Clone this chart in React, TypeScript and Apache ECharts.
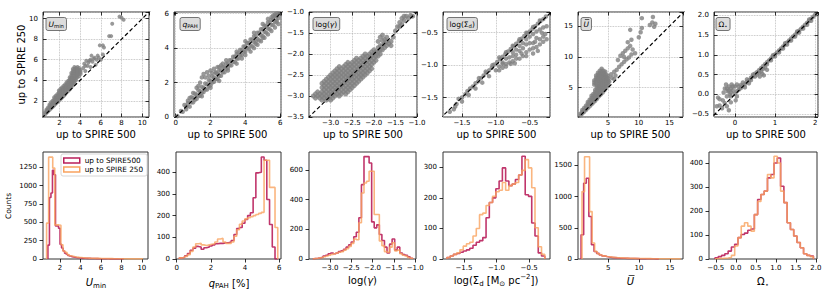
import React, { useEffect, useRef } from 'react';
import * as echarts from 'echarts';

const FONT = 'DejaVu Sans';
const NAME_500 = 'up to SPIRE500';
const NAME_250 = 'up to SPIRE 250';
const C500 = '#b91f5b';
const C250 = '#f9a35f';

type Pt = [number, number];

// ---------- top row: [up to SPIRE 500, up to SPIRE 250] ----------
const uminPts: Pt[] = [
  [0.6,0.65],[0.6,0.85],[0.75,0.8],[0.75,1.0],[0.75,1.15],[0.9,0.95],[0.9,1.15],[0.9,1.35],
  [1.05,1.1],[1.05,1.3],[1.05,1.5],[1.05,1.65],[1.2,1.25],[1.2,1.45],[1.2,1.65],[1.2,1.85],
  [1.35,1.4],[1.35,1.6],[1.35,1.8],[1.35,2.0],[1.5,1.55],[1.5,1.75],[1.5,1.95],[1.5,2.15],[1.5,2.35],
  [1.65,1.7],[1.65,1.9],[1.65,2.1],[1.65,2.3],[1.65,2.5],[1.8,1.85],[1.8,2.05],[1.8,2.25],[1.8,2.45],[1.8,2.65],
  [1.95,2.0],[1.95,2.2],[1.95,2.4],[1.95,2.6],[1.95,2.8],[1.95,3.0],[2.1,2.15],[2.1,2.35],[2.1,2.55],[2.1,2.75],[2.1,2.95],[2.1,3.15],
  [2.25,2.3],[2.25,2.5],[2.25,2.7],[2.25,2.9],[2.25,3.1],[2.25,3.3],[2.4,2.45],[2.4,2.65],[2.4,2.85],[2.4,3.05],[2.4,3.25],[2.4,3.45],
  [2.55,2.6],[2.55,2.8],[2.55,3.0],[2.55,3.2],[2.55,3.4],[2.55,3.6],[2.7,2.8],[2.7,3.0],[2.7,3.2],[2.7,3.4],[2.7,3.6],[2.7,3.8],
  [2.85,2.95],[2.85,3.15],[2.85,3.35],[2.85,3.55],[2.85,3.75],[2.85,3.95],
  [3.0,3.1],[3.0,3.3],[3.0,3.5],[3.0,3.7],[3.0,3.9],[3.0,4.1],[3.0,4.3],
  [3.15,3.3],[3.15,3.5],[3.15,3.7],[3.15,3.9],[3.15,4.1],[3.15,4.3],[3.15,4.5],[3.15,4.7],
  [3.3,3.5],[3.3,3.7],[3.3,3.9],[3.3,4.1],[3.3,4.3],[3.3,4.5],[3.3,4.7],[3.3,4.9],[3.3,5.1],
  [3.45,3.7],[3.45,3.9],[3.45,4.1],[3.45,4.3],[3.45,4.5],[3.45,4.7],[3.45,4.9],[3.45,5.1],[3.45,5.3],
  [3.6,4.0],[3.6,4.2],[3.6,4.4],[3.6,4.6],[3.6,4.8],[3.6,5.0],[3.6,5.2],
  [3.75,4.3],[3.75,4.5],[3.75,4.7],[3.75,4.9],[3.75,5.1],[3.75,5.3],[3.9,4.4],[3.9,4.6],[3.9,4.8],[3.9,5.0],[3.9,5.2],
  [4.05,4.6],[4.05,4.8],[4.05,5.0],
  [4.4,5.6],[4.6,5.9],[4.8,5.7],[5.0,6.0],[5.2,5.8],[5.4,6.2],[5.6,6.0],[5.1,6.4],[4.7,5.4],[5.8,6.2],
  [6.0,6.0],[5.5,5.5],[4.3,5.2],[6.2,6.5],[5.9,7.4],[6.2,7.4],[6.3,7.2],[6.8,8.3],[7.0,8.3],[7.1,9.5],
  [7.8,10.2],[8.0,10.1],[8.2,9.9],[4.5,4.9],[5.0,5.3],[4.5,5.4],[5.3,6.1],[5.7,6.4],[4.9,5.9],
];

const qpahPts: Pt[] = [
  [0.1,0.05],[0.3,0.35],[0.4,0.3],[0.6,0.6],[0.7,0.8],[0.9,0.85],[1.0,1.1],[1.1,1.0],[1.2,1.3],[1.3,1.2],
  [1.4,1.5],[1.5,1.4],[1.6,1.7],[1.7,1.6],[1.8,1.9],[1.9,1.8],[2.0,2.1],[2.1,2.0],[2.2,2.3],[2.3,2.2],
  [2.4,2.5],[2.5,2.4],[2.6,2.7],[2.7,2.6],[2.8,2.9],[2.9,2.8],[3.0,3.1],[3.1,3.0],[3.2,3.3],[3.3,3.2],
  [3.4,3.5],[3.5,3.4],[3.6,3.7],[3.7,3.6],[3.8,3.9],[3.9,3.8],[4.0,4.1],[4.1,4.0],[4.2,4.3],[4.3,4.15],
  [4.4,4.5],[4.5,4.35],[4.6,4.7],[4.7,4.55],[4.8,4.9],[4.9,4.75],[5.0,5.1],[5.1,4.95],[5.2,5.3],[5.3,5.15],
  [5.4,5.5],[5.5,5.35],[5.6,5.7],[5.7,5.55],[5.8,5.85],[5.9,5.75],
  [0.5,0.7],[0.7,0.95],[0.9,1.15],[1.1,1.35],[1.3,1.55],[1.5,1.75],[1.7,1.95],[1.9,2.15],[2.1,2.35],[2.3,2.55],
  [2.5,2.7],[2.7,2.9],[2.9,3.1],[3.1,3.3],[3.3,3.5],[3.5,3.65],[3.7,3.9],[3.9,4.1],[4.1,4.3],[4.3,4.5],
  [4.5,4.7],[4.7,4.9],[4.9,5.1],[5.1,5.3],[5.3,5.5],[5.5,5.65],[5.7,5.85],
  [0.6,0.45],[0.8,0.6],[1.0,0.85],[1.2,1.05],[1.4,1.25],[1.6,1.45],[1.8,1.6],[2.0,1.85],[2.2,2.05],[2.4,2.2],
  [2.6,2.4],[2.8,2.6],[3.0,2.85],[3.2,3.0],[3.4,3.2],[3.6,3.4],[3.8,3.6],[4.0,3.8],[4.2,3.95],[4.4,4.1],
  [4.6,4.25],[4.8,4.45],[5.0,4.7],[5.2,4.9],[5.4,5.1],[5.6,5.35],[5.8,5.6],
  [1.2,1.7],[1.4,2.0],[1.5,2.3],[1.6,2.5],[1.8,2.6],[1.9,2.4],[2.0,2.7],[2.2,2.8],[2.3,2.6],[2.4,2.9],
  [2.5,2.9],[2.7,3.1],[2.9,3.3],[1.3,1.8],[1.0,1.4],[0.8,1.1],[1.7,2.3],[2.1,2.55],[2.6,3.0],
  [1.5,1.2],[2.0,1.7],[2.5,2.1],[3.0,2.7],[3.5,3.1],[3.8,3.4],[4.0,3.6],[4.3,3.8],[4.5,4.0],[4.7,4.2],
  [4.9,4.4],[5.1,4.6],[5.3,4.8],[5.5,5.0],[5.7,5.2],[5.8,5.5],[5.9,5.4],[4.6,4.4],[5.0,4.6],
  [3.5,3.8],[4.0,4.4],[4.5,4.9],[5.0,5.4],[5.3,5.7],[5.5,5.8],[5.7,5.95],[5.9,6.0],[5.6,5.9],[5.8,6.0],
];

const gammaPts: Pt[] = [
  [-3.4,-3.0],[-3.35,-2.95],[-3.35,-3.05],[-3.3,-2.9],[-3.3,-3.0],[-3.25,-2.95],[-3.25,-3.05],
  [-3.2,-2.7],[-3.2,-2.8],[-3.2,-2.9],[-3.2,-3.0],[-3.2,-3.1],
  [-3.15,-2.65],[-3.15,-2.75],[-3.15,-2.85],[-3.15,-2.95],[-3.15,-3.05],
  [-3.1,-2.6],[-3.1,-2.7],[-3.1,-2.8],[-3.1,-2.9],[-3.1,-3.0],[-3.1,-3.1],
  [-3.05,-2.55],[-3.05,-2.65],[-3.05,-2.75],[-3.05,-2.85],[-3.05,-2.95],[-3.05,-3.05],
  [-3.0,-2.5],[-3.0,-2.6],[-3.0,-2.7],[-3.0,-2.8],[-3.0,-2.9],[-3.0,-3.0],[-3.0,-3.1],
  [-2.95,-2.45],[-2.95,-2.55],[-2.95,-2.65],[-2.95,-2.75],[-2.95,-2.85],[-2.95,-2.95],[-2.95,-3.05],
  [-2.9,-2.4],[-2.9,-2.5],[-2.9,-2.6],[-2.9,-2.7],[-2.9,-2.8],[-2.9,-2.9],[-2.9,-3.0],
  [-2.85,-2.35],[-2.85,-2.45],[-2.85,-2.55],[-2.85,-2.65],[-2.85,-2.75],[-2.85,-2.85],[-2.85,-2.95],
  [-2.8,-2.3],[-2.8,-2.4],[-2.8,-2.5],[-2.8,-2.6],[-2.8,-2.7],[-2.8,-2.8],[-2.8,-2.9],[-2.8,-3.0],
  [-2.75,-2.35],[-2.75,-2.45],[-2.75,-2.55],[-2.75,-2.65],[-2.75,-2.75],[-2.75,-2.85],[-2.75,-2.95],
  [-2.7,-2.3],[-2.7,-2.4],[-2.7,-2.5],[-2.7,-2.6],[-2.7,-2.7],[-2.7,-2.8],[-2.7,-2.9],
  [-2.65,-2.25],[-2.65,-2.35],[-2.65,-2.45],[-2.65,-2.55],[-2.65,-2.65],[-2.65,-2.75],[-2.65,-2.85],[-2.65,-2.95],
  [-2.6,-2.2],[-2.6,-2.3],[-2.6,-2.4],[-2.6,-2.5],[-2.6,-2.6],[-2.6,-2.7],[-2.6,-2.8],[-2.6,-2.9],
  [-2.55,-2.25],[-2.55,-2.35],[-2.55,-2.45],[-2.55,-2.55],[-2.55,-2.65],[-2.55,-2.75],[-2.55,-2.85],
  [-2.5,-2.2],[-2.5,-2.3],[-2.5,-2.4],[-2.5,-2.5],[-2.5,-2.6],[-2.5,-2.7],[-2.5,-2.8],
  [-2.45,-2.15],[-2.45,-2.25],[-2.45,-2.35],[-2.45,-2.45],[-2.45,-2.55],[-2.45,-2.65],[-2.45,-2.75],
  [-2.4,-2.1],[-2.4,-2.2],[-2.4,-2.3],[-2.4,-2.4],[-2.4,-2.5],[-2.4,-2.6],[-2.4,-2.7],
  [-2.35,-2.15],[-2.35,-2.25],[-2.35,-2.35],[-2.35,-2.45],[-2.35,-2.55],[-2.35,-2.65],
  [-2.3,-2.1],[-2.3,-2.2],[-2.3,-2.3],[-2.3,-2.4],[-2.3,-2.5],[-2.3,-2.6],
  [-2.25,-2.05],[-2.25,-2.15],[-2.25,-2.25],[-2.25,-2.35],[-2.25,-2.45],[-2.25,-2.55],
  [-2.2,-2.0],[-2.2,-2.1],[-2.2,-2.2],[-2.2,-2.3],[-2.2,-2.4],[-2.2,-2.5],
  [-2.15,-2.05],[-2.15,-2.15],[-2.15,-2.25],[-2.15,-2.35],[-2.15,-2.45],
  [-2.1,-2.0],[-2.1,-2.1],[-2.1,-2.2],[-2.1,-2.3],[-2.1,-2.4],
  [-2.05,-1.95],[-2.05,-2.05],[-2.05,-2.15],[-2.05,-2.25],[-2.05,-2.35],
  [-2.0,-1.9],[-2.0,-2.0],[-2.0,-2.1],[-2.0,-2.2],[-1.95,-1.95],[-1.95,-2.05],[-1.95,-2.15],
  [-1.9,-1.85],[-1.9,-1.95],[-1.9,-2.05],[-1.85,-1.8],[-1.85,-1.9],[-1.85,-2.0],[-1.8,-1.8],[-1.8,-1.9],
  [-1.75,-1.75],[-1.75,-1.85],[-1.7,-1.7],[-1.7,-1.8],[-1.65,-1.75],[-1.6,-1.7],[-1.6,-1.8],
  [-1.85,-1.6],[-1.8,-1.55],[-1.75,-1.65],[-1.7,-1.6],[-1.9,-1.7],[-1.8,-1.68],[-1.55,-1.6],
  [-1.45,-1.35],[-1.4,-1.25],[-1.35,-1.15],[-1.3,-1.2],[-1.25,-1.1],[-1.2,-1.15],[-1.15,-1.08],[-1.1,-1.1],
  [-1.35,-1.3],[-1.5,-1.45],[-1.4,-1.35],[-1.3,-1.1],
];

const sigmaPts: Pt[] = [
  [-1.68,-1.72],[-1.62,-1.68],[-1.58,-1.6],[-1.55,-1.52],[-1.5,-1.5],[-1.45,-1.45],[-1.42,-1.4],[-1.38,-1.36],
  [-1.34,-1.33],[-1.3,-1.28],[-1.26,-1.25],[-1.22,-1.2],[-1.18,-1.16],[-1.14,-1.12],[-1.1,-1.08],[-1.06,-1.04],
  [-1.02,-0.99],[-0.98,-0.95],[-0.94,-0.91],[-0.9,-0.87],[-0.86,-0.83],[-0.82,-0.79],[-0.78,-0.75],[-0.74,-0.71],
  [-0.7,-0.67],[-0.66,-0.63],[-0.62,-0.59],[-0.58,-0.55],[-0.54,-0.51],[-0.5,-0.48],[-0.46,-0.44],[-0.42,-0.4],
  [-0.38,-0.36],[-0.34,-0.32],[-0.3,-0.29],[-0.26,-0.25],
  [-1.6,-1.64],[-1.5,-1.56],[-1.4,-1.46],[-1.3,-1.36],[-1.2,-1.27],[-1.1,-1.17],[-1.0,-1.08],[-0.9,-0.98],
  [-0.95,-0.88],[-0.85,-0.8],[-0.75,-0.7],[-0.65,-0.6],[-0.55,-0.5],[-0.45,-0.41],[-1.25,-1.2],[-1.15,-1.1],
  [-1.05,-1.0],[-0.35,-0.31],
  [-0.95,-1.02],[-0.95,-1.08],[-0.9,-0.96],[-0.9,-1.04],[-0.85,-0.9],[-0.85,-0.98],[-0.85,-1.02],
  [-0.8,-0.88],[-0.8,-0.96],[-0.75,-0.8],[-0.75,-0.86],[-0.75,-0.94],[-0.7,-0.76],[-0.7,-0.84],[-0.7,-0.9],
  [-0.65,-0.7],[-0.65,-0.78],[-0.65,-0.9],[-0.6,-0.66],[-0.6,-0.74],[-0.6,-0.86],[-0.55,-0.6],[-0.55,-0.68],
  [-0.55,-0.8],[-0.5,-0.56],[-0.5,-0.66],[-0.5,-0.76],[-0.45,-0.52],[-0.45,-0.66],[-0.45,-0.74],
  [-0.4,-0.48],[-0.4,-0.58],[-0.4,-0.72],[-0.35,-0.45],[-0.35,-0.6],[-0.35,-0.68],[-0.3,-0.42],[-0.3,-0.56],
  [-0.3,-0.64],[-0.25,-0.4],[-0.25,-0.6],[-0.27,-0.52],[-0.32,-0.5],[-0.38,-0.78],[-0.45,-0.82],[-0.55,-0.86],
  [-0.78,-0.98],[-0.72,-0.97],[-0.62,-0.82],[-0.42,-0.64],
];

const ubarPts: Pt[] = [
  [0.5,0.5],[0.5,0.8],[0.8,0.8],[0.8,1.1],[0.8,1.4],[1.1,1.1],[1.1,1.4],[1.1,1.7],
  [1.4,1.4],[1.4,1.75],[1.4,2.1],[1.7,1.7],[1.7,2.05],[1.7,2.4],[1.7,2.7],
  [2.0,2.0],[2.0,2.35],[2.0,2.7],[2.0,3.05],[2.3,2.3],[2.3,2.65],[2.3,3.0],[2.3,3.35],[2.3,3.7],
  [2.6,2.6],[2.6,2.95],[2.6,3.3],[2.6,3.65],[2.6,4.0],[2.9,2.9],[2.9,3.25],[2.9,3.6],[2.9,3.95],[2.9,4.3],[2.9,4.65],
  [3.2,3.2],[3.2,3.55],[3.2,3.9],[3.2,4.25],[3.2,4.6],[3.2,4.95],[3.2,5.3],
  [3.5,3.6],[3.5,3.95],[3.5,4.3],[3.5,4.65],[3.5,5.0],[3.5,5.35],[3.5,5.7],[3.5,6.05],
  [3.8,3.9],[3.8,4.25],[3.8,4.6],[3.8,4.95],[3.8,5.3],[3.8,5.65],[3.8,6.0],[3.8,6.35],[3.8,6.7],
  [4.1,4.2],[4.1,4.55],[4.1,4.9],[4.1,5.25],[4.1,5.6],[4.1,5.95],[4.1,6.3],[4.1,6.65],[4.1,7.0],
  [4.4,4.6],[4.4,4.95],[4.4,5.3],[4.4,5.65],[4.4,6.0],[4.4,6.35],[4.4,6.7],[4.4,7.05],[4.4,7.4],
  [4.7,5.0],[4.7,5.35],[4.7,5.7],[4.7,6.05],[4.7,6.4],[4.7,6.75],[4.7,7.1],
  [5.0,5.5],[5.0,5.85],[5.0,6.2],[5.0,6.55],[5.0,6.9],
  [2.75,5.5],[2.75,5.85],[2.75,6.2],[3.05,5.6],[3.05,5.95],[3.05,6.3],[3.05,6.65],[3.05,7.0],
  [3.35,6.4],[3.35,6.75],[3.35,7.1],[3.35,7.45],[3.65,6.4],[3.65,7.05],[3.65,7.4],[3.65,7.75],
  [3.95,7.05],[3.95,7.4],[3.95,7.75],[3.95,8.1],[4.25,7.4],[4.25,7.75],[4.55,7.6],
  [5.6,6.6],[6.0,7.6],[6.4,7.9],[6.8,8.4],[7.2,8.8],[7.6,9.2],[8.0,9.6],[8.4,9.9],[6.6,9.5],[7.0,10.2],
  [7.4,10.6],[7.8,11.0],[8.2,11.4],[8.6,11.8],[9.0,11.2],[9.4,10.6],[8.8,10.4],[7.6,10.0],[8.2,12.4],[8.8,12.8],
  [8.6,14.4],[10.0,13.2],[10.3,14.0],[10.5,14.7],[10.5,16.3],[11.8,15.2],[12.2,15.6],[12.5,14.9],[12.7,15.4],[12.3,16.5],
  [6.0,6.4],[5.2,6.0],[6.2,7.0],[5.5,7.2],
];

const omegaPts: Pt[] = [
  [-0.1,-0.05],[0.0,0.02],[0.05,0.08],[0.1,0.12],[0.15,0.16],[0.2,0.22],[0.25,0.26],[0.3,0.32],[0.35,0.36],
  [0.4,0.42],[0.45,0.46],[0.5,0.52],[0.55,0.56],[0.6,0.61],[0.65,0.66],[0.7,0.71],[0.75,0.76],[0.8,0.81],
  [0.85,0.86],[0.9,0.91],[0.95,0.96],[1.0,1.01],[1.05,1.06],[1.1,1.11],[1.15,1.16],[1.2,1.21],[1.25,1.26],
  [1.3,1.31],[1.35,1.36],[1.4,1.41],[1.45,1.46],[1.5,1.51],[1.55,1.56],[1.6,1.61],[1.65,1.66],[1.7,1.71],
  [1.75,1.76],[1.8,1.81],[1.85,1.86],[1.9,1.91],[1.95,1.96],[2.0,2.01],
  [0.1,0.2],[0.2,0.3],[0.3,0.38],[0.4,0.36],[0.5,0.45],[0.6,0.55],[0.7,0.64],[0.8,0.76],[0.25,0.18],
  [0.35,0.28],[0.55,0.5],[0.65,0.58],[0.75,0.68],[1.0,0.96],[1.2,1.16],[1.5,1.46],[1.8,1.76],[0.62,0.45],
  [0.72,0.48],[0.8,0.62],[0.68,0.52],[0.9,0.86],[1.1,1.06],[1.3,1.26],[1.4,1.36],[1.6,1.56],[1.7,1.66],
  [1.9,1.86],[0.95,0.99],[1.25,1.29],[1.55,1.59],[1.85,1.89],[0.45,0.5],[0.15,0.24],
  [-0.45,-0.3],[-0.38,-0.28],[-0.32,-0.35],[-0.25,-0.22],[-0.2,-0.3],[-0.15,-0.4],[-0.42,-0.08],[-0.38,-0.12],
  [-0.28,0.05],[-0.25,0.15],[-0.22,0.25],[-0.18,0.08],[-0.15,0.2],[-0.12,0.0],[-0.1,0.15],[-0.08,0.25],
  [-0.05,0.1],[-0.2,-0.05],[0.0,0.2],[-0.1,-0.2],[0.05,-0.05],[-0.3,-0.15],[0.02,-0.15],[-0.2,0.15],
  [-0.15,0.1],[-0.05,0.2],[-0.1,0.05],[0.05,0.25],
];

// ---------- bottom row: histograms (first bin edge, bin width) and counts ----------
const uminBin500 = [0.83, 0.148];
const uminCounts500 = [190,840,900,1210,1150,450,450,420,200,150,110,80,65,50,40,32,28,24,20,18,16,14,12,11,10,9,8,8,7,6,6,5,5,4,4,4,3,3,3,3,2,2,2,2,2,2,1,1,1,2];
const uminBin250 = [0.7, 0.2];
const uminCounts250 = [490,1390,1390,1240,465,465,460,195,110,90,60,45,38,30,25,22,20,18,15,14,12,11,10,9,8,8,7,6,6,5,5,5,4,4,4,3,3,3,3,2,2,2,2,2,2,2,2];

const qpahBin500 = [0.15, 0.16];
const qpahCounts500 = [5,8,15,25,40,50,58,55,45,52,55,60,65,70,72,72,75,75,78,85,113,140,145,165,182,200,213,282,397,400,470,455,274,159,55,0];
const qpahBin250 = [0.15, 0.16];
const qpahCounts250 = [5,8,12,20,35,55,70,72,65,62,65,68,70,78,92,95,78,72,72,78,105,135,160,175,185,190,195,200,205,210,215,455,455,330,330,145];

const gammaBin500 = [-3.4, 0.06];
const gammaCounts500 = [3,5,8,12,20,25,35,40,35,40,50,55,65,80,95,115,150,180,278,501,690,690,647,250,210,230,165,125,80,40,100,135,60,80,40,30,25,15,5];
const gammaBin250 = [-3.4, 0.06];
const gammaCounts250 = [3,5,8,10,15,20,25,30,35,40,45,50,60,70,85,105,135,130,244,445,512,524,591,591,300,300,121,90,50,45,80,110,55,60,35,25,20,10,5];

const sigmaBin500 = [-1.76, 0.05];
const sigmaCounts500 = [5,10,15,18,22,26,30,35,45,55,60,70,135,185,200,230,255,298,255,240,245,260,275,336,210,205,118,75,20,10];
const sigmaBin250 = [-1.76, 0.05];
const sigmaCounts250 = [5,10,15,20,30,42,50,55,75,100,145,150,175,185,205,220,225,250,225,240,245,250,275,290,325,298,233,102,40,15];

const ubarBin500 = [0.6, 0.42];
const ubarCounts500 = [388,1215,1294,680,228,120,90,65,50,40,32,26,22,18,15,13,11,10,9,8,7,6,5,5,4,4,3,3,2,2];
const ubarBin250 = [0.75, 0.41];
const ubarCounts250 = [1080,1640,1640,760,256,120,85,65,50,40,35,30,25,22,20,18,16,14,12,11,10,9,8,8,7,6,6,5,5,4,4,4,3,3,3,2,2,2,2];

const omegaBin500 = [-0.52, 0.082];
const omegaCounts500 = [5,10,15,22,33,50,61,89,102,108,120,125,185,248,269,283,338,352,400,421,303,235,151,123,96,69,47,22,15,12];
const omegaBin250 = [-0.52, 0.082];
const omegaCounts250 = [2,2,3,4,6,15,54,89,137,151,137,116,185,240,269,283,352,338,428,400,283,235,151,123,96,69,47,22,15,10];

// ---------- layout ----------
const TOP_L = [43, 174, 309, 443, 578, 714];
const TOP_W = [106, 107, 108, 107, 105, 104];
const BOT_L = [43, 176, 309, 443, 578, 709];
const BOT_W = [105, 105, 107, 107, 105, 108];

const topX = [[0.42, 10.65], [-0.1, 6.05], [-3.5, -1.0], [-1.78, -0.2], [0.1, 17.2], [-0.52, 2.07]];
const topY = [[0.42, 10.65], [0, 6.1], [-3.5, -1.0], [-1.8, -0.18], [0.25, 17.3], [-0.57, 2.08]];
const topXStep = [2, 2, 0.5, 0.5, 5, 1];
const topYStep = [2, 2, 0.5, 0.5, 5, 0.5];
const topXDec = [0, 0, 1, 1, 0, 0];
const topYDec = [0, 0, 1, 1, 0, 1];
const topXMaxLbl = [false, false, true, false, false, false];
const topYMinLbl = [false, true, true, false, false, false];
const topYMaxLbl = [false, false, true, false, false, false];
const topSym = [4, 4.5, 5, 4.5, 4.5, 4.5];

const botX = [[0.35, 10.6], [-0.04, 6.1], [-3.49, -0.98], [-1.82, -0.18], [0.1, 17.12], [-0.67, 2.03]];
const botYMax = [1460, 493, 721, 350, 1715, 446];
const botXStep = [2, 2, 0.5, 0.5, 5, 0.5];
const botYStep = [250, 100, 200, 100, 500, 100];
const botXDec = [0, 0, 1, 1, 0, 1];

const fmt = (d: number) => (v: number) => (v < 0 ? '\u2212' : '') + Math.abs(v).toFixed(d);

function stepOutline(bin: number[], counts: number[]) {
  const [start, w] = bin;
  const pts: number[][] = [[start, 0]];
  counts.forEach((c, i) => {
    pts.push([start + i * w, c]);
    pts.push([start + (i + 1) * w, c]);
  });
  pts.push([start + counts.length * w, 0]);
  return pts;
}

type Part = { t: string; s: number; it?: boolean; dy?: number; over?: boolean };

function mathText(ctx: CanvasRenderingContext2D, parts: Part[], x: number, y: number, align: string) {
  const ws = parts.map((p) => {
    ctx.font = `${p.it ? 'italic ' : ''}${p.s}px "${FONT}"`;
    return ctx.measureText(p.t).width;
  });
  const total = ws.reduce((a, b) => a + b, 0);
  let cx = align === 'center' ? x - total / 2 : x;
  const els: any[] = [];
  parts.forEach((p, i) => {
    els.push({
      type: 'text', x: cx, y: y + (p.dy || 0), z: 100, silent: true,
      style: {
        text: p.t, fontSize: p.s, fontFamily: FONT, fontStyle: p.it ? 'italic' : 'normal', fill: '#000',
        textAlign: 'left', textVerticalAlign: 'middle', align: 'left', verticalAlign: 'middle',
      },
    });
    if (p.over) {
      els.push({
        type: 'line', z: 100, silent: true,
        shape: { x1: cx + ws[i] * 0.25, y1: y - p.s * 0.6, x2: cx + ws[i] * 1.05, y2: y - p.s * 0.6 },
        style: { stroke: '#000', lineWidth: Math.max(0.6, p.s * 0.07) },
      });
    }
    cx += ws[i];
  });
  return { els, total };
}

const boxParts: Part[][] = [
  [{ t: 'U', s: 7.5, it: true }, { t: 'min', s: 5.3, dy: 2 }],
  [{ t: 'q', s: 7.5, it: true }, { t: 'PAH', s: 5.3, dy: 2 }],
  [{ t: 'log(', s: 7.5 }, { t: 'γ', s: 7.5, it: true }, { t: ')', s: 7.5 }],
  [{ t: 'log(Σ', s: 7.5 }, { t: 'd', s: 5.3, dy: 2 }, { t: ')', s: 7.5 }],
  [{ t: 'U', s: 7.5, it: true, over: true }],
  [{ t: 'Ω', s: 7.5 }, { t: '⋆', s: 5.3, dy: 2 }],
];
const BOX_L = [46, 180, 313, 447, 581, 716];

const xLabelParts: Part[][] = [
  [{ t: 'U', s: 10, it: true }, { t: 'min', s: 7, dy: 3 }],
  [{ t: 'q', s: 10, it: true }, { t: 'PAH', s: 7, dy: 3 }, { t: ' [%]', s: 10 }],
  [{ t: 'log(', s: 10 }, { t: 'γ', s: 10, it: true }, { t: ')', s: 10 }],
  [{ t: 'log(Σ', s: 10 }, { t: 'd', s: 7, dy: 3 }, { t: ' [M', s: 10 }, { t: '⊙', s: 7, dy: 3 }, { t: ' pc', s: 10 }, { t: '−2', s: 7, dy: -3.5 }, { t: '])', s: 10 }],
  [{ t: 'U', s: 10, it: true, over: true }],
  [{ t: 'Ω', s: 10 }, { t: '⋆', s: 7, dy: 3 }],
];
const XLBL_X = [96, 229, 362.5, 496, 630.5, 763];
const XLBL_Y = [282.5, 283, 280.5, 280.5, 281.5, 281.5];

export default function App() {
  const ref = useRef<HTMLDivElement>(null);

  useEffect(() => {
    if (!ref.current) return;
    const chart = echarts.init(ref.current, undefined, { renderer: 'svg' });
    const ctx = document.createElement('canvas').getContext('2d') as CanvasRenderingContext2D;

    const grids: any[] = [];
    const xAxes: any[] = [];
    const yAxes: any[] = [];
    const series: any[] = [];
    const graphics: any[] = [];

    const mkAxis = (gridIndex: number, min: number, max: number, step: number, dec: number, o: any) => ({
      type: 'value', gridIndex, min, max, minInterval: step, maxInterval: step, splitNumber: 5,
      position: o.position,
      axisLine: { show: false, onZero: false },
      axisTick: { show: true, inside: o.inside, length: 3.5, lineStyle: { color: '#000', width: 0.8 } },
      axisLabel: {
        show: o.labels, margin: o.margin, fontSize: 7, fontFamily: FONT, color: '#000',
        formatter: fmt(dec), showMinLabel: !!o.showMin, showMaxLabel: !!o.showMax,
      },
      splitLine: { show: !!o.split, lineStyle: { type: 'dotted', color: '#b3b3b3', width: 0.8 } },
    });

    const topPts = [uminPts, qpahPts, gammaPts, sigmaPts, ubarPts, omegaPts];

    for (let i = 0; i < 6; i++) {
      const g = grids.length;
      grids.push({ left: TOP_L[i], top: 12, width: TOP_W[i], height: 105, show: true, borderColor: '#333', borderWidth: 1, backgroundColor: 'transparent', containLabel: false, outerBoundsMode: 'none' });
      const xi = xAxes.length;
      xAxes.push(mkAxis(g, topX[i][0], topX[i][1], topXStep[i], topXDec[i], { position: 'bottom', inside: true, labels: true, margin: 2, split: true, showMax: topXMaxLbl[i] }));
      xAxes.push(mkAxis(g, topX[i][0], topX[i][1], topXStep[i], topXDec[i], { position: 'top', inside: true, labels: false, margin: 2 }));
      const yi = yAxes.length;
      yAxes.push(mkAxis(g, topY[i][0], topY[i][1], topYStep[i], topYDec[i], { position: 'left', inside: true, labels: true, margin: 5, split: true, showMin: topYMinLbl[i], showMax: topYMaxLbl[i] }));
      yAxes.push(mkAxis(g, topY[i][0], topY[i][1], topYStep[i], topYDec[i], { position: 'right', inside: true, labels: false, margin: 5 }));
      series.push({
        type: 'scatter', xAxisIndex: xi, yAxisIndex: yi, data: topPts[i], symbolSize: topSym[i],
        itemStyle: { color: '#808080' }, silent: true, z: 2, clip: true,
      });
      const lo = Math.min(topX[i][0], topY[i][0]) - 1;
      const hi = Math.max(topX[i][1], topY[i][1]) + 1;
      series.push({
        type: 'line', xAxisIndex: xi, yAxisIndex: yi, data: [[lo, lo], [hi, hi]], symbol: 'none', silent: true,
        lineStyle: { color: '#000', width: 1.2, type: [4, 2.5] }, z: 3, clip: true,
      });

      const bx = BOX_L[i];
      const by = 17.5;
      const m = mathText(ctx, boxParts[i], bx + 2.5, by + 6.5, 'left');
      graphics.push({
        type: 'rect', z: 90, silent: true,
        shape: { x: bx, y: by, width: m.total + 5, height: 13, r: 2 },
        style: { fill: '#dcdcdc', stroke: '#555', lineWidth: 0.8 },
      });
      graphics.push(...m.els);

      graphics.push({
        type: 'text', x: TOP_L[i] + TOP_W[i] / 2, y: 134, silent: true,
        style: { text: 'up to SPIRE 500', fontSize: 10, fontFamily: FONT, fill: '#000', textAlign: 'center', textVerticalAlign: 'middle', align: 'center', verticalAlign: 'middle' },
      });
    }

    const hist = [
      [uminBin500, uminCounts500, uminBin250, uminCounts250],
      [qpahBin500, qpahCounts500, qpahBin250, qpahCounts250],
      [gammaBin500, gammaCounts500, gammaBin250, gammaCounts250],
      [sigmaBin500, sigmaCounts500, sigmaBin250, sigmaCounts250],
      [ubarBin500, ubarCounts500, ubarBin250, ubarCounts250],
      [omegaBin500, omegaCounts500, omegaBin250, omegaCounts250],
    ];

    for (let i = 0; i < 6; i++) {
      const g = grids.length;
      grids.push({ left: BOT_L[i], top: 152, width: BOT_W[i], height: 107, show: true, borderColor: '#333', borderWidth: 1, backgroundColor: 'transparent', containLabel: false, outerBoundsMode: 'none' });
      const xi = xAxes.length;
      xAxes.push(mkAxis(g, botX[i][0], botX[i][1], botXStep[i], botXDec[i], { position: 'bottom', inside: false, labels: true, margin: 5 }));
      const yi = yAxes.length;
      yAxes.push(mkAxis(g, 0, botYMax[i], botYStep[i], 0, { position: 'left', inside: false, labels: true, margin: 6, showMin: true }));
      const [b5, c5, b2, c2] = hist[i] as any;
      series.push({
        type: 'line', name: NAME_500, xAxisIndex: xi, yAxisIndex: yi, data: stepOutline(b5, c5), symbol: 'none',
        color: C500, itemStyle: { color: C500 }, lineStyle: { color: C500, width: 1.6, opacity: 0.9 }, z: 4, silent: true, clip: true,
      });
      series.push({
        type: 'line', name: NAME_250, xAxisIndex: xi, yAxisIndex: yi, data: stepOutline(b2, c2), symbol: 'none',
        color: C250, itemStyle: { color: C250 }, lineStyle: { color: C250, width: 1.6, opacity: 0.8 }, z: 5, silent: true, clip: true,
      });
      const m = mathText(ctx, xLabelParts[i], XLBL_X[i], XLBL_Y[i], 'center');
      graphics.push(...m.els);
    }

    graphics.push({
      type: 'text', x: 21, y: 64.5, rotation: Math.PI / 2, silent: true,
      style: { text: 'up to SPIRE 250', fontSize: 10, fontFamily: FONT, fill: '#000', textAlign: 'center', textVerticalAlign: 'middle', align: 'center', verticalAlign: 'middle' },
    });
    graphics.push({
      type: 'text', x: 8.5, y: 206, rotation: Math.PI / 2, silent: true,
      style: { text: 'Counts', fontSize: 7.5, fontFamily: FONT, fill: '#000', textAlign: 'center', textVerticalAlign: 'middle', align: 'center', verticalAlign: 'middle' },
    });

    chart.setOption({
      animation: false,
      backgroundColor: '#ffffff',
      textStyle: { fontFamily: FONT },
      grid: grids,
      xAxis: xAxes,
      yAxis: yAxes,
      series,
      legend: {
        show: true, orient: 'vertical', left: 61, top: 154, itemWidth: 16, itemHeight: 5, itemGap: 2,
        padding: [3, 4, 3, 2], icon: 'rect', selectedMode: false,
        backgroundColor: 'rgba(255,255,255,0.8)', borderColor: '#cccccc', borderWidth: 0.8, borderRadius: 2,
        textStyle: { fontFamily: FONT, fontSize: 7.3, color: '#000' },
        data: [
          { name: NAME_500, itemStyle: { color: 'rgba(255,255,255,0)', borderColor: C500, borderWidth: 1.5 } },
          { name: NAME_250, itemStyle: { color: 'rgba(255,255,255,0)', borderColor: C250, borderWidth: 1.5 } },
        ],
      },
      graphic: graphics,
    });

    return () => chart.dispose();
  }, []);

  return <div ref={ref} style={{ position: 'absolute', left: 0, top: 0, width: 831, height: 299 }} />;
}
